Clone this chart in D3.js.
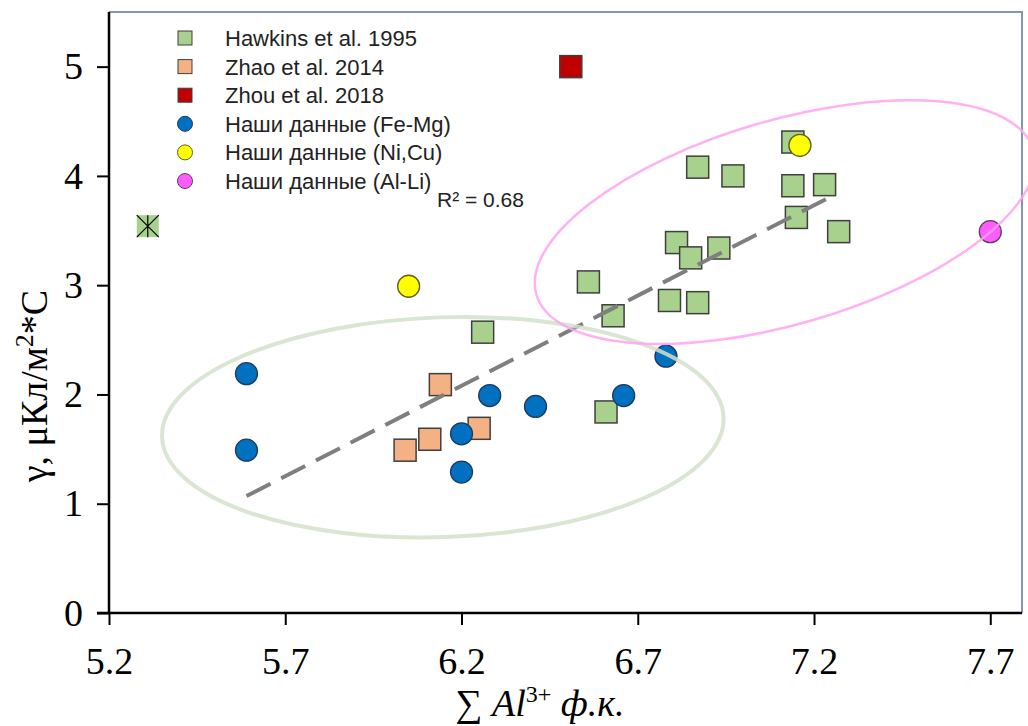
<!DOCTYPE html>
<html>
<head>
<meta charset="utf-8">
<script src="https://cdn.jsdelivr.net/npm/d3@7"></script>
<style>
  body { margin: 0; background: #fff; }
</style>
</head>
<body>
<div id="chart"></div>
<script>
// Series values [x = sum Al3+, y = gamma]
const hawkins = [
    [7.14, 4.31], [6.87, 4.08], [6.97, 4.00], [7.14, 3.91], [7.23, 3.92],
    [7.15, 3.62], [7.27, 3.49], [6.81, 3.39], [6.93, 3.34], [6.85, 3.25],
    [6.56, 3.03], [6.63, 2.72], [6.79, 2.86], [6.87, 2.84], [6.26, 2.57],
    [6.61, 1.84]
];
const hawkinsCrossed = [[5.31, 3.54]];
const zhao = [[6.14, 2.09], [6.25, 1.69], [6.11, 1.59], [6.04, 1.49]];
const zhou = [[6.51, 5.00]];
const feMg = [
    [5.59, 2.19], [5.59, 1.49], [6.28, 1.99], [6.41, 1.89],
    [6.20, 1.64], [6.20, 1.29], [6.66, 1.99], [6.78, 2.35]
];
const niCu = [[6.05, 2.99], [7.16, 4.28]];
const alLi = [[7.70, 3.49]];

const legendLabels = [
    "Hawkins et al. 1995", "Zhao et al. 2014", "Zhou et al. 2018",
    "Наши данные (Fe-Mg)", "Наши данные (Ni,Cu)", "Наши данные (Al-Li)"
];
const xTicks = [5.2, 5.7, 6.2, 6.7, 7.2, 7.7];
const yTicks = [0, 1, 2, 3, 4, 5];

// linear trend
const trendSlope = 1.653;
const trendIntercept = -8.17;
const trendRange = [5.59, 7.26];
const trendR2 = "R² = 0.68";

// grouping ellipses: centre (data units), semi-axes (x units, y units), tilt in degrees
const greenEllipse = [6.147, 1.70, 0.797, 1.006, -2];
const pinkEllipse = [7.117, 3.577, 0.734, 0.933, -16.3];

// marker styles
const series = [
    { data: hawkins, shape: "square", fill: "#a9d18e", stroke: "#3f3f3f" },
    { data: zhao, shape: "square", fill: "#f4b183", stroke: "#3f3f3f" },
    { data: zhou, shape: "square", fill: "#c00000", stroke: "#3f3f3f" },
    { data: feMg, shape: "circle", fill: "#0070c0", stroke: "#1f3a5f" },
    { data: niCu, shape: "circle", fill: "#ffff00", stroke: "#5f5f20" },
    { data: alLi, shape: "circle", fill: "#ff5cff", stroke: "#5f3f5f" }
];

const W = 1028, H = 726;
const plot = { left: 109, right: 1022, top: 12, bottom: 613 };

const svg = d3.select("#chart")
    .append("svg")
    .attr("width", W)
    .attr("height", H)
    .style("font-family", "'Liberation Serif', 'Times New Roman', serif");

svg.append("rect").attr("width", W).attr("height", H).attr("fill", "#fff");

const x = d3.scaleLinear().domain([5.2, 7.79]).range([plot.left, plot.right]);
const y = d3.scaleLinear().domain([0, 5.5]).range([plot.bottom, plot.top]);

// frame: top and right borders
svg.append("path")
    .attr("d", `M${plot.left},${plot.top} H${plot.right} V${plot.bottom}`)
    .attr("fill", "none")
    .attr("stroke", "#8597b0")
    .attr("stroke-width", 2);

// y axis
const yAxis = svg.append("g")
    .attr("transform", `translate(${plot.left},0)`)
    .call(d3.axisLeft(y).tickValues(yTicks).tickSize(12).tickPadding(14).tickFormat(d3.format("d")));
yAxis.select(".domain").attr("stroke", "#000").attr("stroke-width", 2.5)
    .attr("d", `M0,${plot.top}V${plot.bottom}`);
yAxis.selectAll(".tick line").attr("stroke", "#000").attr("stroke-width", 2);
yAxis.selectAll(".tick text")
    .style("font-size", "38px")
    .style("font-family", "'Liberation Serif', serif")
    .attr("fill", "#000");

// x axis
const xAxis = svg.append("g")
    .attr("transform", `translate(0,${plot.bottom})`)
    .call(d3.axisBottom(x).tickValues(xTicks).tickSize(12).tickPadding(22).tickFormat(d3.format(".1f")));
xAxis.select(".domain").attr("stroke", "#000").attr("stroke-width", 2.5)
    .attr("d", `M${plot.left - 12},0H${plot.right}`);
xAxis.selectAll(".tick line").attr("stroke", "#000").attr("stroke-width", 2);
xAxis.selectAll(".tick text")
    .style("font-size", "38px")
    .style("font-family", "'Liberation Serif', serif")
    .attr("fill", "#000");

// axis titles
const xTitle = svg.append("text")
    .attr("x", 540)
    .attr("y", 716)
    .attr("text-anchor", "middle")
    .style("font-size", "38px")
    .style("font-style", "italic");
xTitle.append("tspan").style("font-style", "normal").text("∑ ");
xTitle.append("tspan").text("Al");
xTitle.append("tspan").attr("dy", -14).style("font-size", "24px").style("font-style", "normal").text("3+");
xTitle.append("tspan").attr("dy", 14).text(" ф.к.");

const yTitle = svg.append("text")
    .attr("transform", "translate(47,386) rotate(-90)")
    .attr("text-anchor", "middle")
    .style("font-size", "38px");
yTitle.append("tspan").text("γ, μКл/м");
yTitle.append("tspan").attr("dy", -14).style("font-size", "26px").text("2");
yTitle.append("tspan").attr("dy", 14).text("*С");

// markers
const size = 22;
series.forEach(s => {
    const g = svg.append("g");
    if (s.shape === "square") {
        g.selectAll("rect")
            .data(s.data)
            .enter()
            .append("rect")
            .attr("x", d => x(d[0]) - size / 2)
            .attr("y", d => y(d[1]) - size / 2)
            .attr("width", size)
            .attr("height", size)
            .attr("fill", s.fill)
            .attr("stroke", s.stroke)
            .attr("stroke-width", 1.5);
    } else {
        g.selectAll("circle")
            .data(s.data)
            .enter()
            .append("circle")
            .attr("cx", d => x(d[0]))
            .attr("cy", d => y(d[1]))
            .attr("r", size / 2)
            .attr("fill", s.fill)
            .attr("stroke", s.stroke)
            .attr("stroke-width", 1.3);
    }
});

// crossed-out Hawkins point
const crossed = svg.append("g").selectAll("g")
    .data(hawkinsCrossed)
    .enter()
    .append("g")
    .attr("transform", d => `translate(${x(d[0])},${y(d[1])})`);
crossed.append("rect")
    .attr("x", -size / 2).attr("y", -size / 2)
    .attr("width", size).attr("height", size)
    .attr("fill", "#a9d18e");
crossed.append("path")
    .attr("d", `M${-size / 2},${-size / 2}L${size / 2},${size / 2}M${size / 2},${-size / 2}L${-size / 2},${size / 2}M0,${-size / 2}V${size / 2}`)
    .attr("stroke", "#000")
    .attr("stroke-width", 1.2);

// trend line
svg.append("line")
    .attr("x1", x(trendRange[0]))
    .attr("y1", y(trendSlope * trendRange[0] + trendIntercept))
    .attr("x2", x(trendRange[1]))
    .attr("y2", y(trendSlope * trendRange[1] + trendIntercept))
    .attr("stroke", "#7f7f7f")
    .attr("stroke-width", 4)
    .attr("stroke-dasharray", "27 12");

svg.append("text")
    .attr("x", 437)
    .attr("y", 207)
    .style("font-family", "'Liberation Sans', Arial, sans-serif")
    .style("font-size", "21px")
    .attr("fill", "#222")
    .text(trendR2);

// ellipses
const drawEllipse = (e, color, width) => {
    const cx = x(e[0]), cy = y(e[1]);
    const rx = x(e[0] + e[2]) - cx;
    const ry = cy - y(e[1] + e[3]);
    svg.append("ellipse")
        .attr("transform", `translate(${cx},${cy}) rotate(${e[4]})`)
        .attr("rx", rx)
        .attr("ry", ry)
        .attr("fill", "none")
        .attr("stroke", color)
        .attr("stroke-width", width)
        .attr("stroke-opacity", 0.85);
};
drawEllipse(greenEllipse, "#d3e0ca", 4);
drawEllipse(pinkEllipse, "#ffa3f2", 2.5);

// legend
const legend = svg.append("g")
    .style("font-family", "'Liberation Sans', Arial, sans-serif");
legendLabels.forEach((label, i) => {
    const s = series[i];
    const row = legend.append("g").attr("transform", `translate(185,${38 + i * 28.6})`);
    if (s.shape === "square") {
        row.append("rect")
            .attr("x", -7).attr("y", -7).attr("width", 14).attr("height", 14)
            .attr("fill", s.fill).attr("stroke", s.stroke).attr("stroke-width", 1);
    } else {
        row.append("circle")
            .attr("r", 7.5)
            .attr("fill", s.fill).attr("stroke", s.stroke).attr("stroke-width", 1);
    }
    row.append("text")
        .attr("x", 40)
        .attr("y", 8)
        .style("font-size", "22px")
        .attr("fill", "#222")
        .text(label);
});
</script>
</body>
</html>
